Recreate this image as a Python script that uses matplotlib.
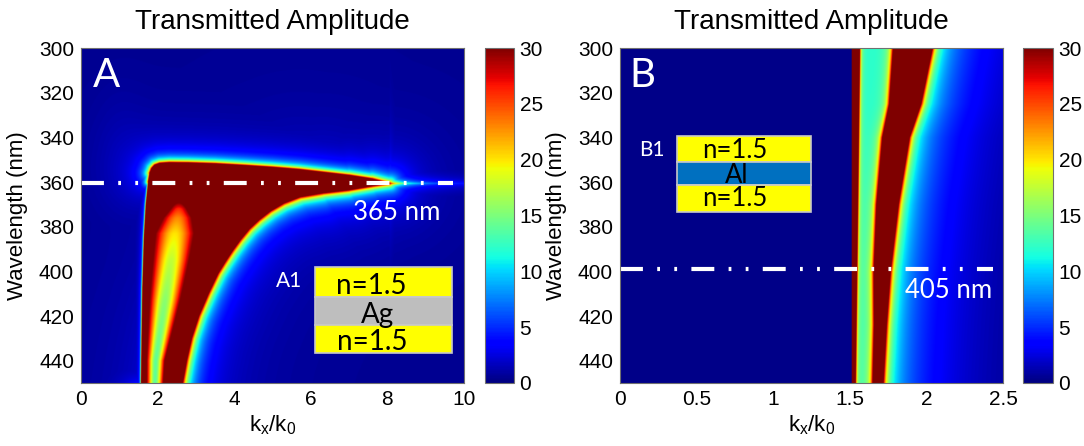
import numpy as np
import matplotlib
matplotlib.use('Agg')
import matplotlib.pyplot as plt
from matplotlib.path import Path
from matplotlib.patches import Rectangle

# ---------------- values ----------------
# Panel A (Ag film): outline of the saturated (>30) region, (kx/k0, wavelength nm)
a_upper_kx = [8.07, 7.6, 7.0, 6.3, 5.7, 5.0, 4.3, 3.5, 2.8, 2.3, 2.05, 1.92, 1.84, 1.79]
a_upper_wl = [360.6, 358.5, 356.9, 355.5, 354.3, 353.3, 352.5, 351.7, 351.3, 351.2, 351.5, 352.3, 353.8, 356.0]
a_left_kx = [1.75, 1.69, 1.64, 1.60, 1.58, 1.565, 1.56]
a_left_wl = [360.0, 370.0, 385.0, 408.0, 430.0, 450.0, 456.0]
a_lower_kx = [2.60, 2.655, 2.76, 2.89, 3.08, 3.33, 3.58, 3.76, 3.95, 4.16, 4.40,
              4.65, 4.95, 5.30, 5.72, 6.30, 7.0, 7.6]
a_lower_wl = [456.0, 450.0, 440.0, 430.0, 420.0, 410.0, 401.0, 396.0, 391.0, 386.0, 381.0,
              377.0, 373.0, 369.5, 366.7, 365.0, 363.6, 361.8]
# inner weaker lobe inside the red region
a_lobe_wl = [368, 372, 376, 383, 395, 413, 440, 450]
a_lobe_kc = [2.55, 2.55, 2.52, 2.45, 2.35, 2.19, 1.95, 1.93]
a_lobe_core = [32, 26, 23, 20, 17.5, 15.5, 14, 14]
a_lobe_s = [0.30, 0.35, 0.50, 0.60, 0.52, 0.42, 0.24, 0.22]
# tail beyond the tip
a_tip_kx = 8.07
a_tip_wl = 360.6

# Panel B (Al film): bands vs wavelength
b_wl = [300, 325, 340, 370, 400, 424, 450]
b_center = [1.91, 1.86, 1.80, 1.745, 1.71, 1.698, 1.683]
b_halfw = [0.112, 0.087, 0.072, 0.055, 0.038, 0.024, 0.018]
b_nedge_wl = [300, 450]
b_nedge = [1.56, 1.532]
b_light = 1.512
b_plateau = 11.3

# dash-dot-dot guide lines
lineA_kx = [0.0, 9.72]
lineA_wl = [360.3, 360.3]
lineB_kx = [0.0, 2.435]
lineB_wl = [399.0, 399.0]

cbar_ticks = [0, 5, 10, 15, 20, 25, 30]
A_xticks = [0, 2, 4, 6, 8, 10]
B_xticks = [0, 0.5, 1, 1.5, 2, 2.5]
B_xticklabels = ['0', '0.5', '1', '1.5', '2', '2.5']
yticks = [300, 320, 340, 360, 380, 400, 420, 440]

# ---------------- figure ----------------
plt.rcParams['font.family'] = ['Liberation Sans', 'DejaVu Sans']
plt.rcParams['mathtext.fontset'] = 'custom'
plt.rcParams['mathtext.rm'] = 'Liberation Sans'
plt.rcParams['lines.scale_dashes'] = False

W, H = 1084, 446
fig = plt.figure(figsize=(W / 100, H / 100), dpi=100)
axA = fig.add_axes([81 / W, 63 / H, 383 / W, 335 / H])
caxA = fig.add_axes([485 / W, 63 / H, 29 / W, 335 / H])
axB = fig.add_axes([620 / W, 63 / H, 383 / W, 335 / H])
caxB = fig.add_axes([1023 / W, 63 / H, 30 / W, 335 / H])

# ---------- panel A field ----------
kA = np.linspace(0, 10, 1400)
wA = np.linspace(300, 450, 700)
K, WL = np.meshgrid(kA, wA)
sx, sy = 38.3, 2.233  # display pixels per unit
PX, PY = K * sx, WL * sy

poly_k = list(a_upper_kx) + list(a_left_kx) + list(a_lower_kx)
poly_w = list(a_upper_wl) + list(a_left_wl) + list(a_lower_wl)
fall = ([3.5, 3.2] + [2.8] * (len(a_upper_kx) - 2) + [0.5] * (len(a_left_kx) - 1) + [0.1]
        + [5.0] * (len(a_lower_kx) - 3) + [4.5, 4.0, 3.8])
n = len(poly_k)
Zout = np.zeros_like(K)
for i in range(n):
    j = (i + 1) % n
    x0, y0 = poly_k[i] * sx, poly_w[i] * sy
    x1, y1 = poly_k[j] * sx, poly_w[j] * sy
    dx, dy = x1 - x0, y1 - y0
    L2 = dx * dx + dy * dy
    t = np.clip(((PX - x0) * dx + (PY - y0) * dy) / L2, 0, 1)
    d = np.hypot(PX - (x0 + t * dx), PY - (y0 + t * dy))
    wseg = 0.5 * (fall[i] + fall[j])
    Zout = np.maximum(Zout, 30.0 / (1.0 + d / wseg + (d / (3 * wseg)) ** 2))

inside = Path(np.column_stack([poly_k, poly_w])).contains_points(
    np.column_stack([K.ravel(), WL.ravel()])).reshape(K.shape)

kc = np.interp(WL, a_lobe_wl, a_lobe_kc)
core = np.interp(WL, a_lobe_wl, a_lobe_core, left=40)
ss = np.interp(WL, a_lobe_wl, a_lobe_s)
Zin = 40 - np.clip(40 - core, 0, None) * np.exp(-((K - kc) / ss) ** 2)

bg = 0.4 + 0.4 * np.exp(-(((K - 1.0) / 0.7) ** 2 + ((WL - 345) / 28) ** 2))
ZA = np.where(inside, Zin, Zout + bg)
V = np.where(K > a_tip_kx, 30.0 / (1 + np.clip(K - a_tip_kx, 0, None) / 0.35), 0)
tail = V / (1 + np.abs(WL - a_tip_wl) * sy / 3.0)
ZA = np.maximum(ZA, tail)

imA = axA.imshow(ZA, extent=[0, 10, 450, 300], aspect='auto', cmap='jet',
                 vmin=0, vmax=30, interpolation='bilinear')
axA.set_xlim(0, 10)
axA.set_ylim(450, 300)

# ---------- panel B field ----------
kB = np.linspace(0, 2.5, 1600)
wB = np.linspace(300, 450, 600)
K, WL = np.meshgrid(kB, wB)
c = np.interp(WL, b_wl, b_center)
h = np.interp(WL, b_wl, b_halfw)
ne = np.interp(WL, b_nedge_wl, b_nedge)
dl = (c - h) - K
dr = K - (c + h)
dout = np.maximum(dl, dr)
band = np.where(dout <= 0, 40, 30 / (1 + (np.clip(dout, 0, None) / 0.02) ** 2))
drp = np.clip(dr, 0, None)
tailB = np.where(dr > 0, 2.0 / (drp + 0.12) * np.exp(-(drp / 0.9) ** 2), 0)
plat = np.where(dl > 0, b_plateau, 0)
narrow = np.where(K <= ne, 40, 30 / (1 + ((K - ne) / 0.008) ** 2))
ZB = np.where(K < b_light, 0.35, band + tailB + plat + narrow)

imB = axB.imshow(ZB, extent=[0, 2.5, 450, 300], aspect='auto', cmap='jet',
                 vmin=0, vmax=30, interpolation='bilinear')
axB.set_xlim(0, 2.5)
axB.set_ylim(450, 300)

# ---------- axes cosmetics ----------
for ax in (axA, axB):
    ax.set_yticks(yticks)
    ax.tick_params(length=0, labelsize=15, pad=5)
    ax.set_title('Transmitted Amplitude', fontsize=20, pad=14)
    ax.set_xlabel(r'$\mathregular{k_x/k_0}$', fontsize=16, labelpad=3)
    ax.set_ylabel('Wavelength (nm)', fontsize=16, labelpad=8)
    for s in ax.spines.values():
        s.set_color('#707070')
        s.set_linewidth(0.8)
axA.set_xticks(A_xticks)
axB.set_xticks(B_xticks)
axB.set_xticklabels(B_xticklabels)

for cax, im in ((caxA, imA), (caxB, imB)):
    cb = fig.colorbar(im, cax=cax, ticks=cbar_ticks)
    cb.ax.tick_params(length=0, labelsize=15, pad=4)
    cb.outline.set_edgecolor('#707070')
    cb.outline.set_linewidth(0.8)

# dash-dot-dot lines
dash = [16.5, 10.3, 2.0, 10.3, 2.0, 10.3]
for ax, xs, ys in ((axA, lineA_kx, lineA_wl), (axB, lineB_kx, lineB_wl)):
    ln, = ax.plot(xs, ys, color='white', lw=3.0, solid_capstyle='butt')
    ln.set_dashes(dash)
    ln.set_dash_capstyle('butt')

lab = ['Lato', 'DejaVu Sans']
axA.text(0.03, 0.885, 'A', transform=axA.transAxes, color='white', fontsize=29,
         family=lab, va='baseline', ha='left')
axB.text(0.025, 0.885, 'B', transform=axB.transAxes, color='white', fontsize=29,
         family=lab, va='baseline', ha='left')
axA.text(0.825, 0.487, '365 nm', transform=axA.transAxes, color='white', fontsize=18.5,
         family=lab, va='baseline', ha='center')
axB.text(0.858, 0.254, '405 nm', transform=axB.transAxes, color='white', fontsize=18.5,
         family=lab, va='baseline', ha='center')
axA.text(0.543, 0.287, 'A1', transform=axA.transAxes, color='white', fontsize=15,
         family=lab, va='baseline', ha='center')
axB.text(0.082, 0.678, 'B1', transform=axB.transAxes, color='white', fontsize=15,
         family=lab, va='baseline', ha='center')

def layers(ax, x0, x1, ys, colors):
    for (yb, yt), col in zip(ys, colors):
        ax.add_patch(Rectangle((x0, yb), x1 - x0, yt - yb, transform=ax.transAxes,
                               facecolor=col, edgecolor='#c8c8c8', lw=1.2, zorder=5))

layers(axA, 0.611, 0.969, [(0.257, 0.346), (0.173, 0.257), (0.090, 0.173)],
       ['#ffff00', '#bebebe', '#ffff00'])
axA.text(0.757, 0.266, 'n=1.5', transform=axA.transAxes, fontsize=20, family=lab,
         va='baseline', ha='center', zorder=6)
axA.text(0.774, 0.179, 'Ag', transform=axA.transAxes, fontsize=20, family=lab,
         va='baseline', ha='center', zorder=6)
axA.text(0.761, 0.0985, 'n=1.5', transform=axA.transAxes, fontsize=20, family=lab,
         va='baseline', ha='center', zorder=6)

layers(axB, 0.149, 0.499, [(0.660, 0.738), (0.591, 0.660), (0.510, 0.591)],
       ['#ffff00', '#0070c0', '#ffff00'])
axB.text(0.30, 0.671, 'n=1.5', transform=axB.transAxes, fontsize=18.5, family=lab,
         va='baseline', ha='center', zorder=6)
axB.text(0.305, 0.598, 'Al', transform=axB.transAxes, fontsize=18.5, family=lab,
         va='baseline', ha='center', zorder=6)
axB.text(0.30, 0.527, 'n=1.5', transform=axB.transAxes, fontsize=18.5, family=lab,
         va='baseline', ha='center', zorder=6)

fig.savefig('out.png', dpi=100)
